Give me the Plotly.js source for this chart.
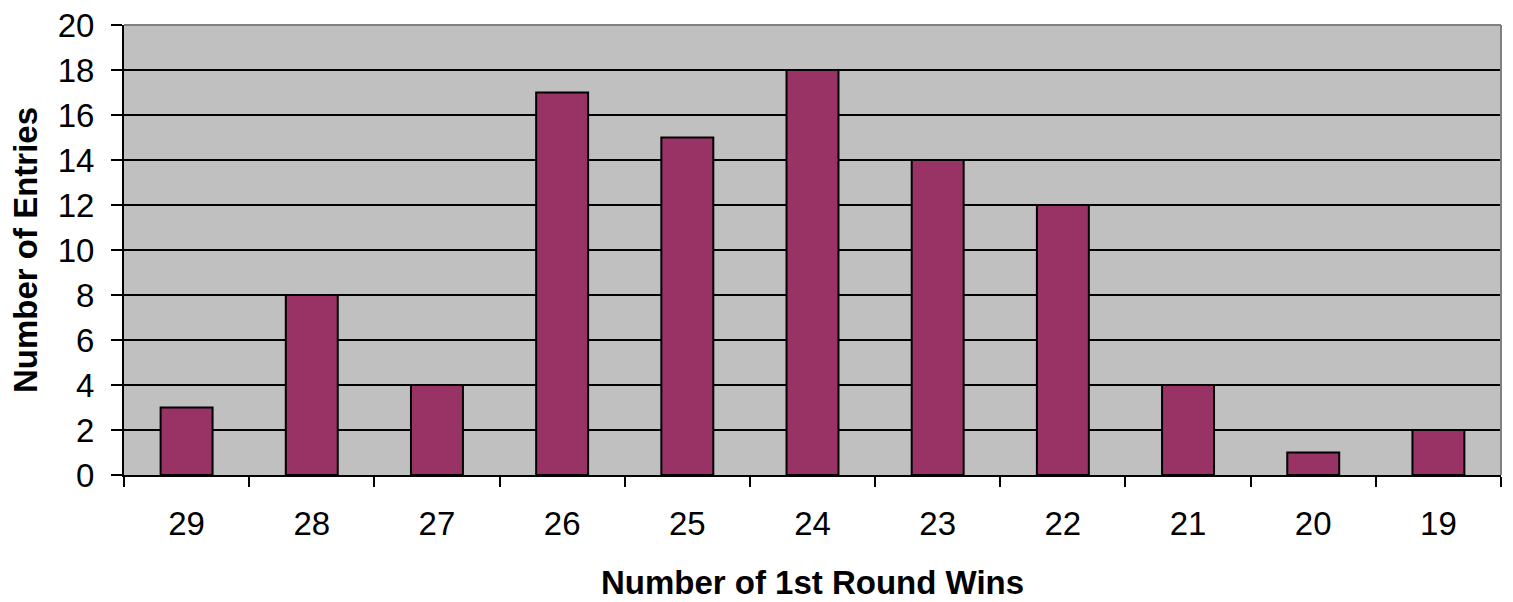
<!DOCTYPE html>
<html>
<head>
<meta charset="utf-8">
<script src="https://cdn.plot.ly/plotly-3.0.1.min.js"></script>
<style>html,body{margin:0;padding:0;background:#fff;}#chart{width:1513px;height:602px;}</style>
</head>
<body>
<div id="chart"></div>
<script>
const categories = ["29","28","27","26","25","24","23","22","21","20","19"];
const entries = [3, 8, 4, 17, 15, 18, 14, 12, 4, 1, 2];
const yTicks = [0,2,4,6,8,10,12,14,16,18,20];
const xTitle = "Number of 1st Round Wins";
const yTitle = "Number of Entries";

const trace = {
  type: "bar",
  x: categories,
  y: entries,
  marker: {color: "#993366", line: {color: "#000000", width: 2}},
  hoverinfo: "x+y"
};

const layout = {
  width: 1513, height: 602,
  margin: {l: 124, r: 12, t: 25, b: 127},
  paper_bgcolor: "#ffffff",
  plot_bgcolor: "#c0c0c0",
  bargap: 0.585,
  showlegend: false,
  font: {family: "Liberation Sans, Arial, sans-serif", color: "#000"},
  xaxis: {
    type: "category",
    tickson: "boundaries",
    ticks: "outside", ticklen: 10, tickwidth: 2, tickcolor: "#000",
    showline: true, linecolor: "#000", linewidth: 2,
    showgrid: false,
    tickfont: {size: 33, color: "#000"},
    ticklabelstandoff: 18,
    title: {text: xTitle, font: {size: 33, color: "#000", weight: "bold"}, standoff: 30}
  },
  yaxis: {
    range: [0, 20],
    tickmode: "array", tickvals: yTicks,
    ticks: "outside", ticklen: 11, tickwidth: 2, tickcolor: "#000",
    showline: true, linecolor: "#000", linewidth: 2,
    showgrid: true, gridcolor: "#000", gridwidth: 2,
    zeroline: false,
    tickfont: {size: 33, color: "#000"},
    ticklabelstandoff: 10,
    title: {text: yTitle, font: {size: 33, color: "#000", weight: "bold"}, standoff: 10}
  },
  shapes: [
    {type: "line", xref: "paper", yref: "paper", x0: 0, x1: 1, y0: 1, y1: 1, line: {color: "#808080", width: 2}, layer: "above"},
    {type: "line", xref: "paper", yref: "paper", x0: 1, x1: 1, y0: 0, y1: 1, line: {color: "#808080", width: 2}, layer: "above"}
  ]
};

Plotly.newPlot("chart", [trace], layout, {displayModeBar: false, staticPlot: true});
</script>
</body>
</html>
